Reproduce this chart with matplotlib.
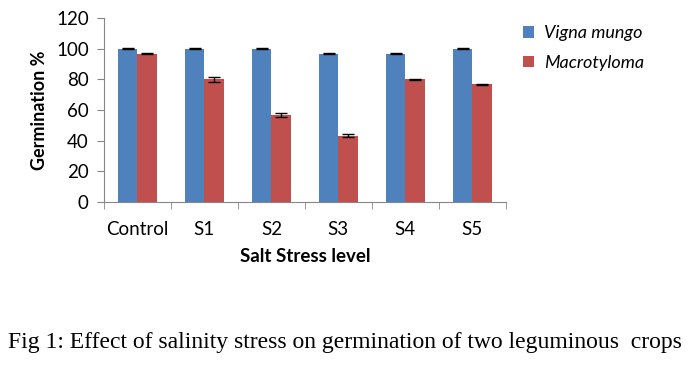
import numpy as np
import matplotlib.pyplot as plt

categories = ["Control", "S1", "S2", "S3", "S4", "S5"]
vigna = [100, 100, 100, 96.7, 96.7, 100]
vigna_err = [0.3, 0.3, 0.3, 0.3, 0.3, 0.3]
macro = [96.7, 80, 56.7, 43.3, 80, 76.7]
macro_err = [0.3, 1.5, 1.5, 1.2, 0.3, 0.3]

plt.rcParams['font.family'] = ['Lato', 'DejaVu Sans']

fig = plt.figure(figsize=(6.91, 3.67), dpi=100)
ax = fig.add_axes([0.1505, 0.4496, 0.5815, 0.5014])

x = np.arange(len(categories))
w = 0.29
ekw = dict(elinewidth=1, capthick=1)
ax.bar(x - w/2, vigna, w, yerr=vigna_err, capsize=4, color="#4f81bd",
       error_kw=ekw, label="Vigna mungo")
ax.bar(x + w/2, macro, w, yerr=macro_err, capsize=4, color="#c0504d",
       error_kw=ekw, label="Macrotyloma")

ax.set_xlim(-0.5, len(categories) - 0.5)
ax.set_ylim(0, 120)
ax.set_yticks(range(0, 121, 20))
ax.set_xticks(x)
ax.set_xticklabels(categories)
ax.set_xticks(np.arange(-0.5, len(categories)), minor=True)
ax.tick_params(axis='x', which='major', length=0, pad=14)
ax.tick_params(axis='x', which='minor', length=5, color="#868686")
ax.tick_params(axis='y', length=5, color="#868686", pad=6)
ax.tick_params(labelsize=13.5)
for s in ["top", "right"]:
    ax.spines[s].set_visible(False)
for s in ["left", "bottom"]:
    ax.spines[s].set_color("#868686")

ax.set_ylabel("Germination %", fontsize=13, fontweight="bold", labelpad=6)
ax.set_xlabel("Salt Stress level", fontsize=13.5, fontweight="bold", labelpad=7)

leg = fig.legend(loc="upper left", bbox_to_anchor=(0.733, 0.975), frameon=False,
                 prop={"style": "italic", "size": 13}, handlelength=0.6,
                 handleheight=0.6, handletextpad=0.6, labelspacing=0.75)

fig.text(0.012, 0.052, "Fig 1: Effect of salinity stress on germination of two leguminous  crops",
         fontsize=17, family="Liberation Serif", va="baseline")

fig.savefig("out.png", dpi=100)
